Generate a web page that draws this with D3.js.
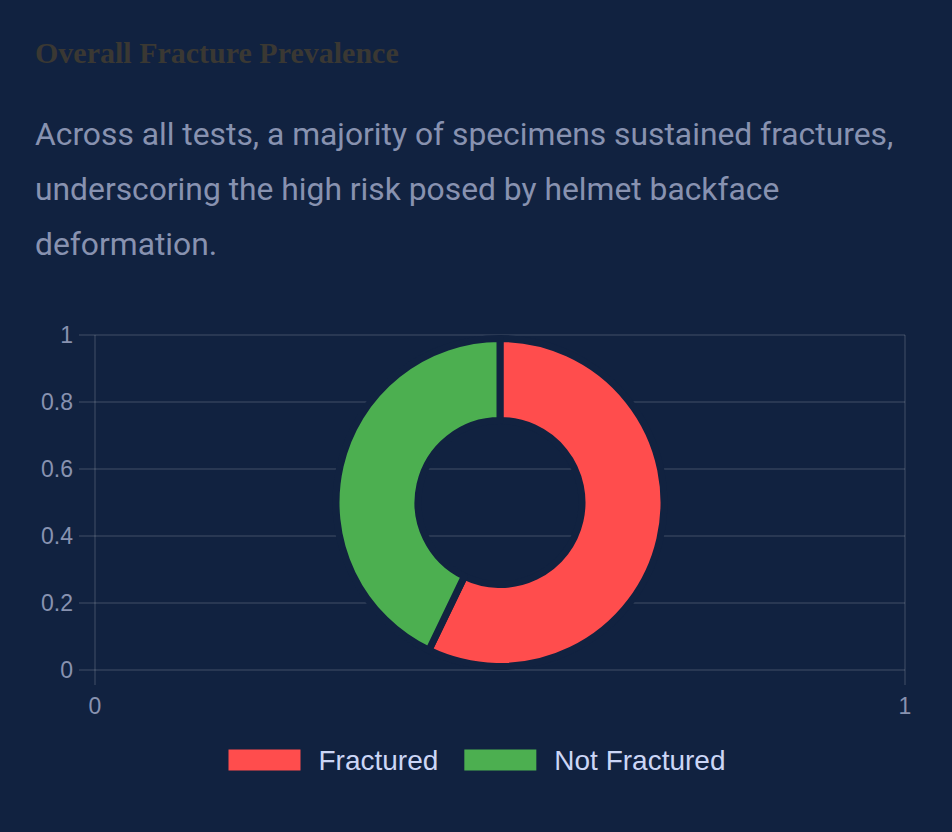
<!DOCTYPE html>
<html>
<head>
<meta charset="utf-8">
<script src="https://cdn.jsdelivr.net/npm/d3@7"></script>
<style>
  html, body { margin: 0; padding: 0; background: #112240; }
  svg { display: block; }
</style>
</head>
<body>
<div id="chart"></div>
<script>
// data
var labels = ['Fractured', 'Not Fractured'];
var values = [4, 3];
var colors = ['#ff4d4d', '#4caf50'];
var yTicks = [0, 0.2, 0.4, 0.6, 0.8, 1];
var xTicks = [0, 1];
var title = 'Overall Fracture Prevalence';
var bodyLines = [
    'Across all tests, a majority of specimens sustained fractures,',
    'underscoring the high risk posed by helmet backface',
    'deformation.'
];

(function() {
    var width = 952,
        height = 832,
        bg = '#112240',
        grid_color = 'rgba(255,255,255,0.1)',
        tick_color = '#8892b0',
        area = { left: 95, right: 905, top: 335, bottom: 670 },
        border_w = 7;

    var svg = d3.select('#chart').append('svg')
        .attr('width', width)
        .attr('height', height);

    svg.append('rect')
        .attr('width', width)
        .attr('height', height)
        .attr('fill', bg);

    // heading + paragraph
    svg.append('text')
        .attr('x', 35)
        .attr('y', 63)
        .attr('font-family', '"Liberation Serif", "DejaVu Serif", serif')
        .attr('font-weight', 'bold')
        .attr('font-size', 30)
        .attr('fill', '#3a3833')
        .text(title);

    svg.append('g')
        .selectAll('text')
        .data(bodyLines)
        .join('text')
        .attr('x', 35)
        .attr('y', function(d, i) { return 145 + i * 55; })
        .attr('font-family', 'Roboto, sans-serif')
        .attr('font-size', 31.8)
        .attr('fill', '#8892b0')
        .text(function(d) { return d; });

    // scales
    var x = d3.scaleLinear().domain([0, 1]).range([area.left, area.right]);
    var y = d3.scaleLinear().domain([0, 1]).range([area.bottom, area.top]);

    // grid lines (y)
    svg.append('g')
        .selectAll('line')
        .data(yTicks)
        .join('line')
        .attr('x1', area.left - 16)
        .attr('x2', area.right)
        .attr('y1', function(d) { return y(d); })
        .attr('y2', function(d) { return y(d); })
        .attr('stroke', grid_color)
        .attr('stroke-width', 2);

    // grid lines (x)
    svg.append('g')
        .selectAll('line')
        .data(xTicks)
        .join('line')
        .attr('x1', function(d) { return x(d); })
        .attr('x2', function(d) { return x(d); })
        .attr('y1', area.top)
        .attr('y2', area.bottom + 15)
        .attr('stroke', grid_color)
        .attr('stroke-width', 2);

    // tick labels
    svg.append('g')
        .selectAll('text')
        .data(yTicks)
        .join('text')
        .attr('x', 73)
        .attr('y', function(d) { return y(d); })
        .attr('dy', '0.35em')
        .attr('text-anchor', 'end')
        .attr('font-family', '"Liberation Sans", Arial, sans-serif')
        .attr('font-size', 23)
        .attr('fill', tick_color)
        .text(function(d) { return d3.format('~g')(d); });

    svg.append('g')
        .selectAll('text')
        .data(xTicks)
        .join('text')
        .attr('x', function(d) { return x(d); })
        .attr('y', 714)
        .attr('text-anchor', 'middle')
        .attr('font-family', '"Liberation Sans", Arial, sans-serif')
        .attr('font-size', 23)
        .attr('fill', tick_color)
        .text(function(d) { return d; });

    // doughnut
    var outer = (Math.min(area.right - area.left, area.bottom - area.top) - border_w) / 2;
    var pie = d3.pie().sort(null);
    var arc = d3.arc().innerRadius(outer * 0.5).outerRadius(outer);

    var g = svg.append('g')
        .attr('transform', 'translate(' + x(0.5) + ',' + y(0.5) + ')');

    g.selectAll('path')
        .data(pie(values))
        .join('path')
        .attr('d', arc)
        .attr('fill', function(d, i) { return colors[i]; })
        .attr('stroke', bg)
        .attr('stroke-width', border_w)
        .attr('stroke-linejoin', 'round');

    // legend
    var box_w = 72, box_h = 21, pad = 18, gap = 26,
        legend_y = 760,
        font = '"Liberation Sans", Arial, sans-serif';

    var legend = svg.append('g');
    var items = legend.selectAll('g')
        .data(labels)
        .join('g');

    items.append('rect')
        .attr('width', box_w)
        .attr('height', box_h)
        .attr('y', legend_y - box_h / 2)
        .attr('fill', function(d, i) { return colors[i]; });

    items.append('text')
        .attr('x', box_w + pad)
        .attr('y', legend_y)
        .attr('dy', '0.36em')
        .attr('font-family', font)
        .attr('font-size', 28)
        .attr('fill', '#ccd6f6')
        .text(function(d) { return d; });

    var offs = [], total = 0;
    items.each(function() {
        var w = box_w + pad + this.querySelector('text').getComputedTextLength();
        offs.push(total);
        total += w + gap;
    });
    total -= gap;
    var start = 477 - total / 2;
    items.attr('transform', function(d, i) { return 'translate(' + (start + offs[i]) + ',0)'; });
})();
</script>
</body>
</html>
